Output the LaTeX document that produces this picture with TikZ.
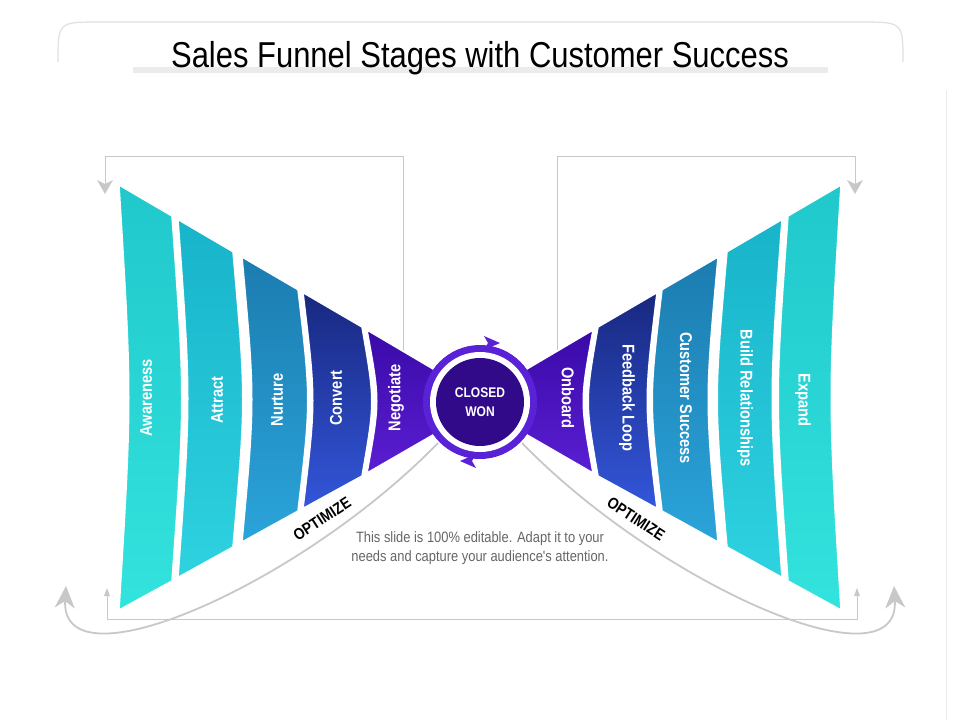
\documentclass[tikz,border=0pt]{standalone}
\usepackage{fontspec}
\setmainfont{Liberation Sans}
\newfontfamily\cond[FakeStretch=0.86]{Liberation Sans}
\usetikzlibrary{arrows.meta,shadings}
\definecolor{awT}{HTML}{20C8CC}\definecolor{awB}{HTML}{33E3DD}
\definecolor{atT}{HTML}{18B4CA}\definecolor{atB}{HTML}{2ED2E0}
\definecolor{nuT}{HTML}{1C7CB0}\definecolor{nuB}{HTML}{2AA4DA}
\definecolor{coT}{HTML}{182880}\definecolor{coB}{HTML}{3356DA}
\definecolor{neT}{HTML}{3A0AA8}\definecolor{neB}{HTML}{5A1ED2}
\definecolor{ring}{HTML}{5A22D6}\definecolor{core}{HTML}{300A88}
\definecolor{lgray}{HTML}{C8C8C8}
\tikzset{lbl/.style={text=white,font=\cond\bfseries\fontsize{17}{18}\selectfont},
 gline/.style={draw=lgray,line width=0.7pt},
 opt/.style={font=\cond\bfseries\fontsize{16}{17}\selectfont},
 carrow/.style={draw=lgray,line width=1.8pt,-{Stealth[length=22pt,width=20pt,inset=7pt]}}}
\newcommand{\fseg}[8]{%
 \path[top color=#7,bottom color=#8,draw=white,line width=1.5pt]
 (#1,#3) -- (#2,#4) .. controls (#2+13,{(#4+#6)/2}) .. (#2,#6) -- (#1,#5)
 .. controls (#1+13,{(#3+#5)/2}) .. cycle;}
\newcommand{\funnel}{%
 \fseg{119}{172}{185}{216}{610}{581}{awT}{awB}
 \fseg{178}{233}{219.5}{251.7}{577.4}{547}{atT}{atB}
 \fseg{242}{298}{257}{289.7}{542}{511}{nuT}{nuB}
 \fseg{303}{362}{292.6}{327}{508.4}{476}{coT}{coB}
 \path[top color=neT,bottom color=neB,draw=white,line width=1.5pt]
 (367,330) -- (445,376) -- (445,428) -- (367,473) .. controls (380,401) .. cycle;}
\begin{document}
\begin{tikzpicture}[x=1pt,y=-1pt]
\useasboundingbox (0,0) rectangle (960,720);
\fill[white] (0,0) rectangle (960,720);
% frame
\draw[draw=black!12,line width=1.2pt] (58,62) .. controls (58,22) .. (100,22) -- (860,22) .. controls (903,22) .. (903,62);
\draw[draw=black!8,line width=0.8pt] (946,90) -- (946,720);
\fill[black!8] (133,67) rectangle (828,73);
\node (title) at (480,58) {\fontsize{36}{40}\selectfont\cond Sales Funnel Stages with Customer Success};
% brackets
\draw[gline] (105,185) -- (105,156) -- (403,156) -- (403,360);
\draw[gline] (855,185) -- (855,156) -- (557,156) -- (557,360);
\draw[gline] (107,595) -- (107,619) -- (857,619) -- (857,595);
\fill[lgray] (97,180) -- (105,194) -- (113,180) -- (105,184) -- cycle;
\fill[lgray] (847,180) -- (855,194) -- (863,180) -- (855,184) -- cycle;
\fill[lgray] (104,596) -- (107,588) -- (110,596) -- cycle;
\fill[lgray] (854,596) -- (857,588) -- (860,596) -- cycle;
% curved arrows
\coordinate (lc) at (438,443); \coordinate (le) at (66,586);
\coordinate (rc) at (522,443); \coordinate (re) at (894,586);
\draw[carrow] (lc) .. controls (300,585) and (60,690) .. (le);
\draw[carrow] (rc) .. controls (660,585) and (900,690) .. (re);
% funnels
\funnel
\begin{scope}[shift={(960,0)},xscale=-1]\funnel\end{scope}
\node[opt,rotate=33] (o1) at (322,519) {OPTIMIZE};
\node[opt,rotate=-33] (o2) at (636,519) {OPTIMIZE};
% circle
\fill[ring] (480,402) circle (57);
\fill[white] (480,402) circle (50);
\fill[core] (480,402) circle (44);
\fill[ring] (484,336) -- (500,343) -- (484,350) -- (488,343) -- cycle;
\fill[ring] (476,454) -- (460,461) -- (476,468) -- (472,461) -- cycle;
\node[text=white,font=\cond\bfseries\fontsize{14}{19}\selectfont,align=center] (cw) at (480,402) {CLOSED\\WON};
% labels
\node[lbl,rotate=90] (aw) at (146,398) {Awareness};
\node[lbl,rotate=90] (at) at (217,400) {Attract};
\node[lbl,rotate=90] (nu) at (277,400) {Nurture};
\node[lbl,rotate=90] (co) at (336,398) {Convert};
\node[lbl,rotate=90] (ne) at (396,398) {Negotiate};
\node[lbl,rotate=-90] (on) at (568,398) {Onboard};
\node[lbl,rotate=-90] (fl) at (627,398) {Feedback Loop};
\node[lbl,rotate=-90] (cs) at (686,398) {Customer Success};
\node[lbl,rotate=-90] (br) at (745,398) {Build Relationships};
\node[lbl,rotate=-90] (ex) at (803,400) {Expand};
\node[text=black!60,font=\cond\fontsize{15}{19}\selectfont,align=center] (desc) at (480,548) {This slide is 100\% editable. Adapt it to your\\needs and capture your audience's attention.};
\end{tikzpicture}
\end{document}
